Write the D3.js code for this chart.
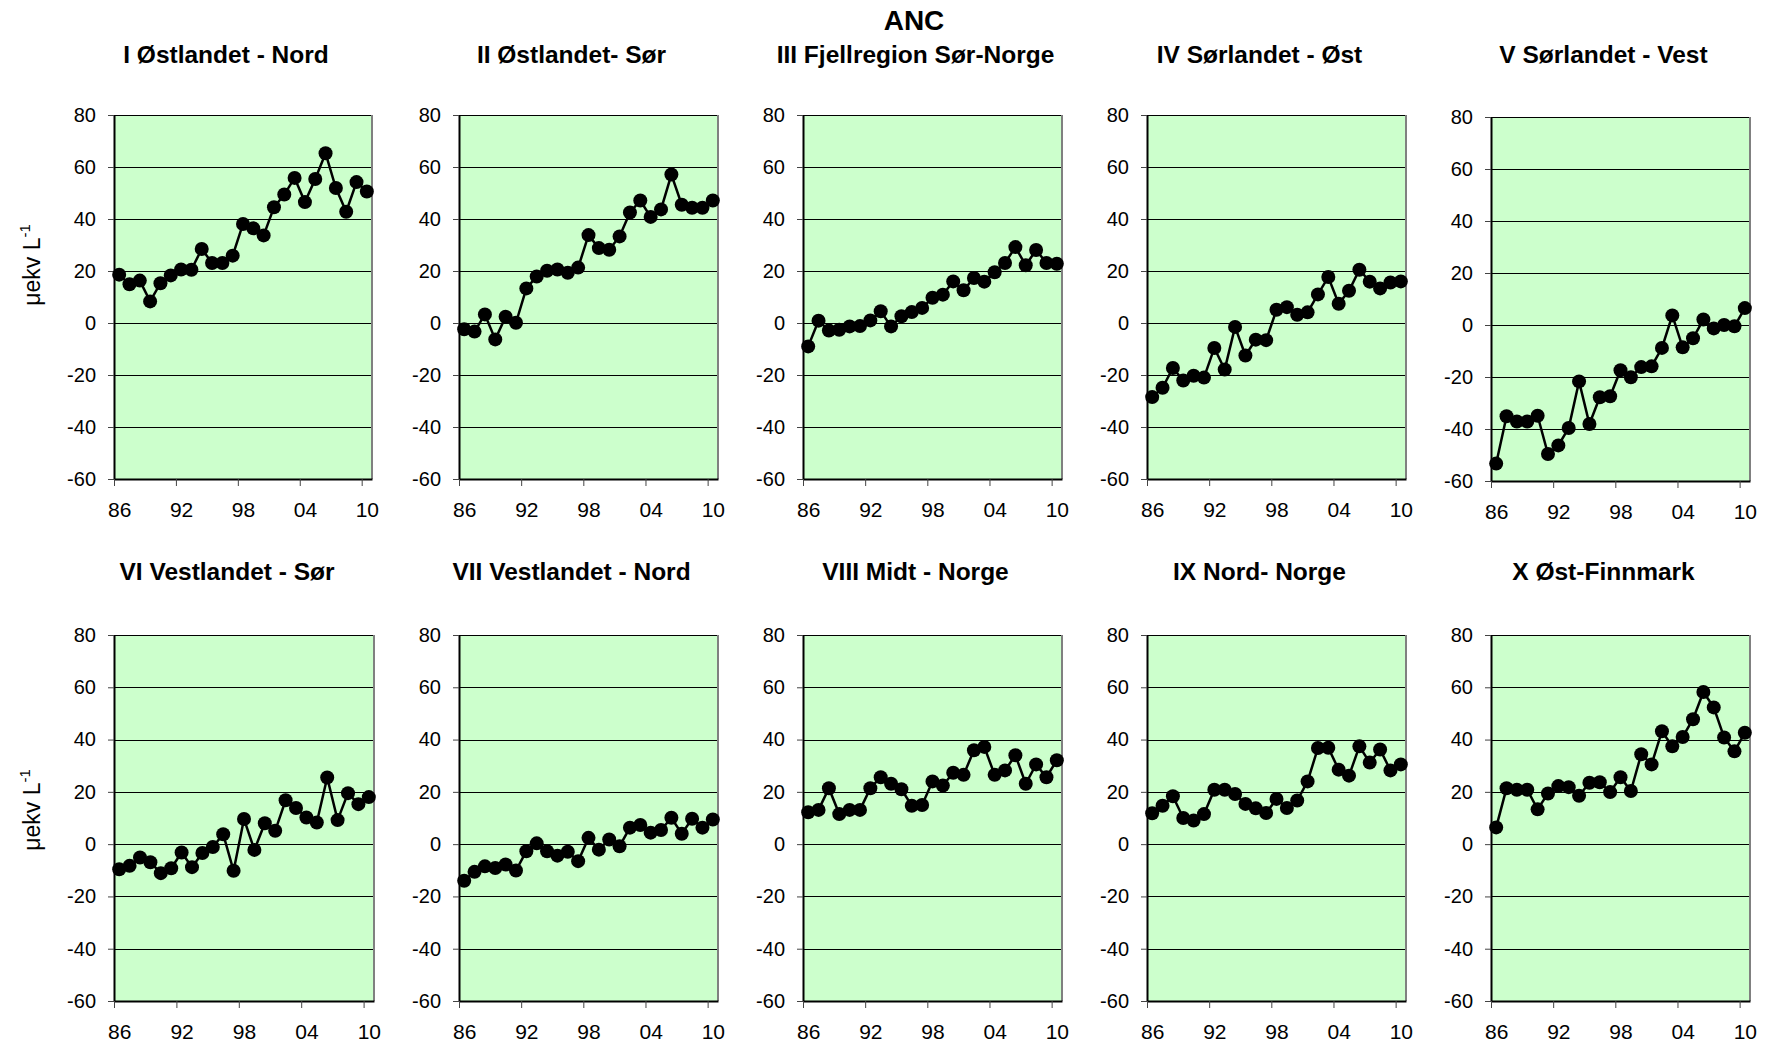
<!DOCTYPE html>
<html><head><meta charset="utf-8">
<script src="https://cdn.jsdelivr.net/npm/d3@7"></script>
<style>
body{margin:0;background:#fff;}
svg{display:block;font-family:"Liberation Sans",Arial,sans-serif;}
</style></head><body>
<svg id="chart" width="1765" height="1044"></svg>
<script>
// ---- data ----
const years = [1986,1987,1988,1989,1990,1991,1992,1993,1994,1995,1996,1997,1998,1999,2000,2001,2002,2003,2004,2005,2006,2007,2008,2009,2010];
const xTickYears = [1986,1992,1998,2004,2010];
const xTickLabels = ["86","92","98","04","10"];
const yTicks = [-60,-40,-20,0,20,40,60,80];
const chartTitle = "ANC";
const yAxisLabel = "μekv L";
const yAxisLabelSup = "-1";
const regionTitles = ["I Østlandet - Nord","II Østlandet- Sør","III Fjellregion Sør-Norge","IV Sørlandet - Øst","V Sørlandet - Vest",
  "VI Vestlandet - Sør","VII Vestlandet - Nord","VIII Midt - Norge","IX Nord- Norge","X Øst-Finnmark"];

const ancI    = [18.6,14.9,16.3,8.3,15.3,18.3,20.6,20.5,28.5,23.1,23.1,25.9,38.1,36.4,33.7,44.5,49.4,55.8,46.5,55.4,65.3,51.9,42.8,54.2,50.6];
const ancII   = [-2.4,-3.3,3.3,-6.3,2.4,0.1,13.3,17.9,20.1,20.6,19.3,21.3,33.8,28.8,28.2,33.3,42.5,47.1,40.8,43.7,57.1,45.5,44.3,44.3,47.1];
const ancIII  = [-9.0,0.9,-2.9,-2.6,-1.3,-1.2,1.0,4.5,-1.3,2.6,4.2,5.8,9.7,10.9,16.0,12.6,17.3,15.9,19.5,23.1,29.2,22.2,28.1,23.1,22.8];
const ancIV   = [-28.5,-24.9,-17.3,-22.1,-20.3,-21.0,-9.6,-17.9,-1.5,-12.5,-6.4,-6.6,5.1,6.1,3.2,4.1,11.0,17.7,7.4,12.4,20.5,15.9,13.3,15.6,16.0];
const ancV    = [-53.3,-35.1,-37.1,-37.1,-34.9,-49.6,-46.3,-39.6,-21.7,-38.1,-27.8,-27.4,-17.4,-20.1,-16.2,-15.9,-8.8,3.7,-8.6,-5.1,2.1,-1.3,0.0,-0.5,6.5];
const ancVI   = [-9.6,-8.3,-5.1,-6.9,-11.1,-9.2,-3.2,-8.8,-3.4,-1.1,3.8,-10.2,9.6,-2.2,8.0,5.1,16.8,13.8,10.2,8.3,25.5,9.2,19.5,15.3,18.0];
const ancVII  = [-14.0,-10.6,-8.5,-9.1,-7.8,-10.1,-2.7,0.3,-2.7,-4.4,-2.9,-6.5,2.4,-2.1,1.8,-0.8,6.3,7.3,4.4,5.4,10.1,4.0,9.7,6.3,9.4];
const ancVIII = [12.2,13.1,21.4,11.5,13.1,13.1,21.4,25.6,23.1,21.0,14.7,15.0,24.0,22.4,27.3,26.5,35.9,37.2,26.5,28.2,34.0,23.1,30.5,25.6,32.1];
const ancIX   = [11.8,14.7,18.3,10.0,9.0,11.5,20.8,20.8,19.2,15.4,13.7,11.9,17.3,13.8,16.7,24.0,36.8,36.9,28.5,26.2,37.4,31.2,36.2,28.2,30.5];
const ancX    = [6.4,21.4,20.8,20.8,13.3,19.4,22.2,21.8,18.5,23.5,23.7,19.9,25.6,20.3,34.4,30.5,43.2,37.4,41.0,47.8,58.2,52.3,40.8,35.5,42.6];
const series = [ancI,ancII,ancIII,ancIV,ancV,ancVI,ancVII,ancVIII,ancIX,ancX];

// ---- layout ----
const svg = d3.select("#chart");
const FONT = "'Liberation Sans', Arial, sans-serif";
const colLeft = [114, 459, 803, 1147, 1491];
const colWidth = [258, 259, 259, 259, 259];
const rowTop = [115, 635];
const rowHeight = [364, 366];
const titleBaseline = [63, 579.5];

series.forEach((vals, i) => {
  const r = Math.floor(i / 5), c = i % 5;
  const top = rowTop[r] + (i === 4 ? 2 : 0);
  const left = colLeft[c];
  const w = i === 5 ? 260 : colWidth[c];
  const h = rowHeight[r];
  const x = d3.scaleLinear().domain([1986, 2011]).range([left, left + w]);
  const y = d3.scaleLinear().domain([-60, 80]).range([top + h, top]);
  const g = svg.append("g");

  g.append("rect").attr("x", left).attr("y", top).attr("width", w).attr("height", h).attr("fill", "#CCFFCC");

  g.selectAll("line.grid").data(yTicks.filter(t => t > -60)).join("line")
    .attr("class", "grid")
    .attr("x1", left).attr("x2", left + w)
    .attr("y1", d => Math.round(y(d)) + 0.5).attr("y2", d => Math.round(y(d)) + 0.5)
    .attr("stroke", "#000").attr("stroke-width", 1);

  g.append("line").attr("x1", left + w).attr("x2", left + w).attr("y1", top).attr("y2", top + h)
    .attr("stroke", "#808080").attr("stroke-width", 2);

  const ya = g.append("g").attr("transform", `translate(${left},0)`)
    .call(d3.axisLeft(y).tickValues(yTicks).tickSize(6).tickPadding(12).tickSizeOuter(0)
      .tickFormat(d => String(d)));
  ya.select(".domain").attr("stroke", "#000").attr("stroke-width", 2);
  ya.selectAll(".tick line").attr("stroke", "#444");
  ya.selectAll("text").attr("font-size", 20).attr("fill", "#000").attr("font-family", FONT);

  const xa = g.append("g").attr("transform", `translate(0,${top + h})`)
    .call(d3.axisBottom(x).tickValues(xTickYears).tickSize(7).tickFormat("").tickSizeOuter(0));
  xa.select(".domain").attr("stroke", "#000").attr("stroke-width", 2);
  xa.selectAll(".tick line").attr("stroke", "#444");

  const xl = g.append("g").attr("transform", `translate(0,${top + h})`)
    .call(d3.axisBottom(x).tickValues(xTickYears.map(v => v + 0.5)).tickSize(0).tickPadding(23)
      .tickFormat((d, j) => xTickLabels[j]));
  xl.select(".domain").remove();
  xl.selectAll("text").attr("font-size", 21).attr("fill", "#000").attr("font-family", FONT);

  const pts = years.map((yr, j) => ({ yr, v: vals[j] }));
  g.append("path").datum(pts)
    .attr("d", d3.line().x(d => x(d.yr + 0.5)).y(d => y(d.v)))
    .attr("fill", "none").attr("stroke", "#000").attr("stroke-width", 2.5);
  g.selectAll("circle").data(pts).join("circle")
    .attr("cx", d => x(d.yr + 0.5)).attr("cy", d => y(d.v)).attr("r", 7).attr("fill", "#000");

  g.append("text").attr("x", left + w / 2 - 17).attr("y", titleBaseline[r])
    .attr("text-anchor", "middle").attr("font-weight", "bold").attr("font-size", 24.5)
    .text(regionTitles[i]);
});

[265, 810].forEach(cy => {
  const t = svg.append("text").attr("transform", `translate(40,${cy}) rotate(-90)`)
    .attr("text-anchor", "middle").attr("font-size", 23);
  t.append("tspan").text(yAxisLabel);
  t.append("tspan").attr("font-size", 15).attr("dy", -10).text(yAxisLabelSup);
});

svg.append("text").attr("x", 914).attr("y", 30).attr("text-anchor", "middle")
  .attr("font-weight", "bold").attr("font-size", 28).text(chartTitle);
</script>
</body></html>
